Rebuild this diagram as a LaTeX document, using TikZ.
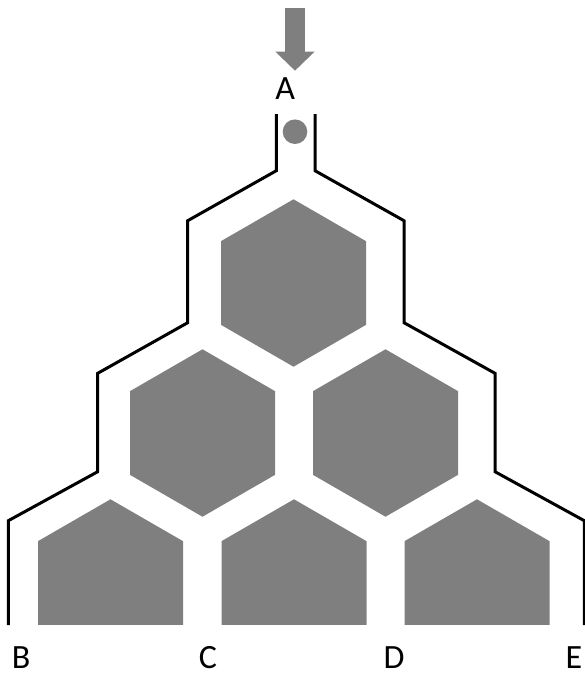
\documentclass[tikz,border=0pt]{standalone}
\usepackage{fontspec}
\setmainfont{Carlito}
\usetikzlibrary{arrows.meta}

\definecolor{blockgray}{RGB}{127,127,127}

\tikzset{
  block/.style={
    fill=blockgray
  },
  wall/.style={
    draw=black,
    line width=3pt,
    line join=miter
  },
  feed/.style={
    draw=blockgray,
    line width=20pt,
    -{Triangle[width=38pt,length=19pt]}
  },
  outlet/.style={
    inner sep=0pt,
    font=\fontsize{34}{40}\selectfont
  }
}

\begin{document}
\begin{tikzpicture}[x=1pt,y=-1pt]
  \useasboundingbox (0,0) rectangle (585,673);

  % full hexagons
  \foreach \cx/\cy in {293.5/283, 202.5/433, 385.5/433}
    \fill[block] (\cx,\cy) +(0,-83.7) -- +(72.5,-41.85) -- +(72.5,41.85)
      -- +(0,83.7) -- +(-72.5,41.85) -- +(-72.5,-41.85) -- cycle;

  % bottom row, cut flat
  \foreach \cx in {110.5, 294, 477}
    \fill[block] (\cx,583) +(0,-83.7) -- +(72.5,-41.85) -- +(72.5,41.85)
      -- +(-72.5,41.85) -- +(-72.5,-41.85) -- cycle;

  % walls
  \draw[wall] (8.3,625) -- (8.3,520.7) -- (97.7,471.7) -- (97.7,373.3)
    -- (187.7,322.7) -- (187.7,220.7) -- (276.3,170.7) -- (276.3,114);
  \draw[wall] (584.3,625) -- (584.3,520.7) -- (495,471.7) -- (495,373.3)
    -- (404,322.7) -- (404,220.7) -- (315,170.7) -- (315,114);

  % ball and feed arrow
  \fill[block] (295,131.7) circle (12.3);
  \coordinate (feedtop) at (295,8);
  \coordinate (feedtip) at (295,70.7);
  \draw[feed] (feedtop) -- (feedtip);

  \node[outlet] (A) at (285.3,88.3) {A};
  \node[outlet] (B) at (21,657.5) {B};
  \node[outlet] (C) at (208,657.5) {C};
  \node[outlet] (D) at (394,657.5) {D};
  \node[outlet] (E) at (574,657.5) {E};
\end{tikzpicture}
\end{document}
